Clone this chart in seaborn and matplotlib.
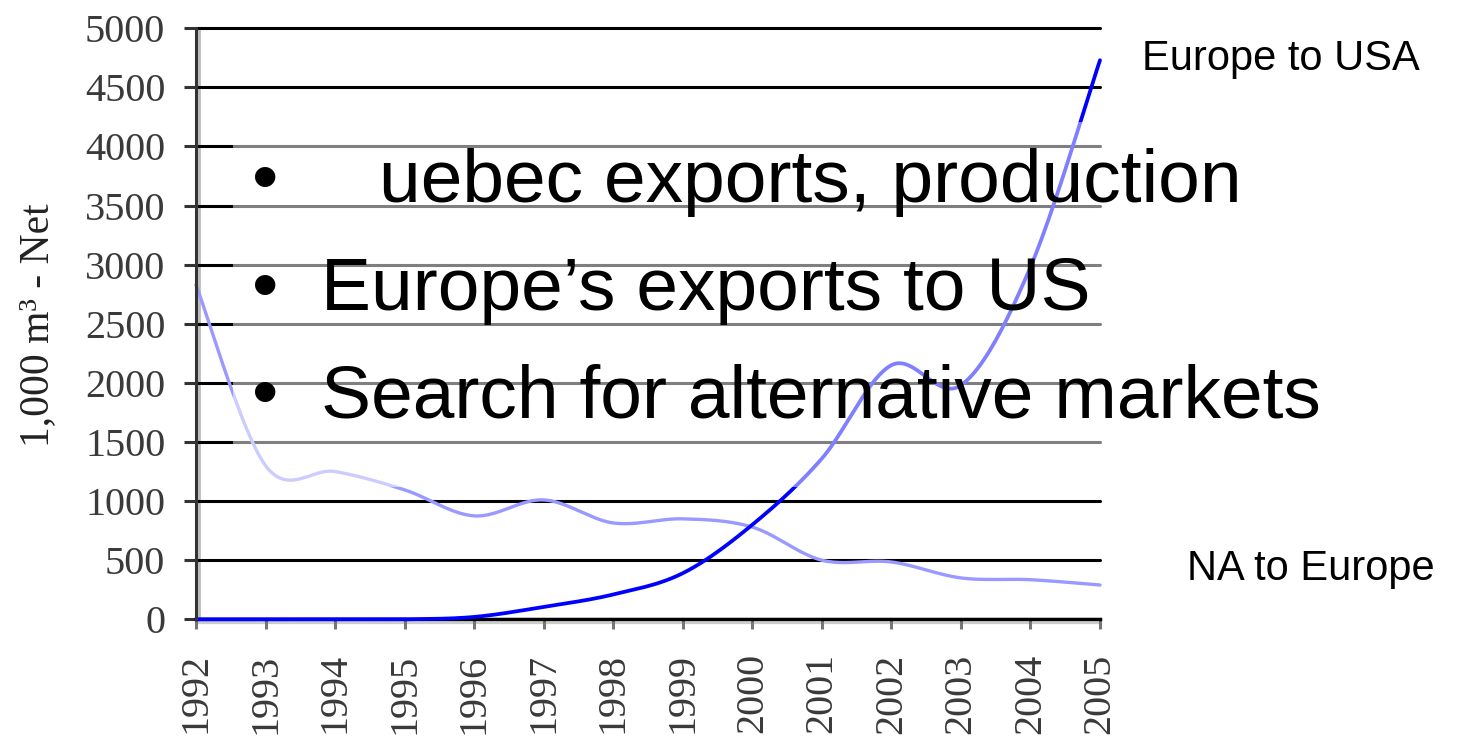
import numpy as np
import pandas as pd
import matplotlib
matplotlib.use("Agg")
import matplotlib.pyplot as plt
import matplotlib.transforms as mtransforms
from matplotlib.patches import Rectangle
import seaborn as sns

# Annual net trade volumes, 1,000 m3
years = [1992, 1993, 1994, 1995, 1996, 1997, 1998, 1999, 2000, 2001, 2002, 2003, 2004, 2005]
europe_to_usa = [0, 0, 0, 0, 20, 105, 210, 390, 800, 1360, 2150, 1980, 2980, 4730]
na_to_europe = [2830, 1300, 1250, 1095, 875, 1010, 815, 850, 780, 500, 485, 350, 335, 290]

y_ticks = [0, 500, 1000, 1500, 2000, 2500, 3000, 3500, 4000, 4500, 5000]
series_labels = ["Europe to USA", "NA to Europe"]
bullets = ["uebec exports, production", "Europe\u2019s exports to US", "Search for alternative markets"]
y_label = "1,000 m\u00b3 - Net"

W, H = 1460, 746


def smooth(xs, ys, n=24):
    """Cardinal (Catmull-Rom) Bezier smoothing through every data point."""
    xs = np.asarray(xs, float)
    ys = np.asarray(ys, float)
    px = np.concatenate([[xs[0]], xs, [xs[-1]]])
    py = np.concatenate([[ys[0]], ys, [ys[-1]]])
    out_x, out_y = [], []
    t = np.linspace(0, 1, n, endpoint=False)
    for i in range(1, len(px) - 2):
        p0 = np.array([px[i], py[i]])
        p3 = np.array([px[i + 1], py[i + 1]])
        c1 = p0 + (p3 - np.array([px[i - 1], py[i - 1]])) / 6.0
        c2 = p3 - (np.array([px[i + 2], py[i + 2]]) - p0) / 6.0
        b = ((1 - t) ** 3)[:, None] * p0 + (3 * (1 - t) ** 2 * t)[:, None] * c1 \
            + (3 * (1 - t) * t ** 2)[:, None] * c2 + (t ** 3)[:, None] * p3
        out_x.extend(b[:, 0])
        out_y.extend(b[:, 1])
    out_x.append(xs[-1])
    out_y.append(ys[-1])
    return np.array(out_x), np.array(out_y)


sns.set_style("white")
plt.rcParams["font.family"] = ["Liberation Serif", "DejaVu Serif"]

fig = plt.figure(figsize=(W / 100, H / 100), dpi=100)
ax = fig.add_axes([196 / W, (H - 619.3) / H, 904 / W, 591 / H])

# horizontal rules at every tick
for v in y_ticks:
    ax.axhline(v, color="black", lw=2.2, zorder=1, clip_on=False)

sx, sy = smooth(years, na_to_europe)
df_na = pd.DataFrame({"year": sx, "volume": sy})
sns.lineplot(data=df_na, x="year", y="volume", ax=ax, color="#9999ff", lw=2.4,
             sort=False, zorder=3, clip_on=False)

sx, sy = smooth(years, europe_to_usa)
sy = np.maximum(sy, 0)
df_eu = pd.DataFrame({"year": sx, "volume": sy})
sns.lineplot(data=df_eu, x="year", y="volume", ax=ax, color="#0000ff", lw=2.7,
             sort=False, zorder=4, clip_on=False)

ax.set_xlim(1992, 2005)
ax.set_ylim(0, 5000)
ax.set_xlabel("")
ax.set_ylabel("")
ax.set_xticks(years)
ax.set_xticklabels([str(y) for y in years], rotation=90)
ax.set_yticks(y_ticks)
ax.set_yticklabels([str(v) for v in y_ticks])
ax.tick_params(axis="x", length=7.5, width=2.2, color="#777777", pad=17,
               labelsize=29, labelcolor="#3a3a3a", bottom=True)
ax.tick_params(axis="y", length=8.6, width=2.2, color="#333333", pad=13.5,
               labelsize=29, labelcolor="#3a3a3a", left=True)

for side in ["top", "right"]:
    ax.spines[side].set_visible(False)
ax.spines["left"].set_color("#333333")
ax.spines["left"].set_linewidth(2.2)
ax.spines["bottom"].set_color("black")
ax.spines["bottom"].set_linewidth(2.5)
ax.spines["left"].set_zorder(5)

# soft grey shadow right of the value axis and under the year axis
shadow_r = mtransforms.offset_copy(ax.transData, fig=fig, x=3.0, y=0, units="dots")
ax.plot([1992, 1992], [0, 5000], color="#bbbbbb", lw=2.0, transform=shadow_r,
        clip_on=False, zorder=0.5)
shadow_b = mtransforms.offset_copy(ax.transData, fig=fig, x=0, y=-3.5, units="dots")
ax.plot([1992, 2005], [0, 0], color="#cccccc", lw=1.6, transform=shadow_b,
        clip_on=False, zorder=0.5)

# translucent text panel
panel = Rectangle((233 / W, 1 - 487 / H), (1340 - 233) / W, (487 - 122) / H,
                  transform=fig.transFigure, facecolor="white", alpha=0.5,
                  edgecolor="none", zorder=1)
fig.add_artist(panel)

# bullet list
sans = ["Liberation Sans", "DejaVu Sans"]
baselines = [202, 310, 417]
text_x = [379, 321, 321]
for txt, base, tx in zip(bullets, baselines, text_x):
    fig.text(265 / W, 1 - base / H, "\u2022", ha="center", va="baseline",
             fontsize=54, family=sans, color="black", zorder=3)
    fig.text(tx / W, 1 - base / H, txt, ha="left", va="baseline",
             fontsize=54, family=sans, color="black", zorder=3)

# series labels at the right
fig.text(1142 / W, 1 - 70 / H, series_labels[0], ha="left", va="baseline",
         fontsize=30, family=sans, color="black")
fig.text(1187 / W, 1 - 580 / H, series_labels[1], ha="left", va="baseline",
         fontsize=30, family=sans, color="black")

# value axis title
fig.text(38 / W, 1 - 325 / H, y_label, rotation=90, ha="center", va="center",
         fontsize=30, family=["Liberation Serif", "DejaVu Serif"], color="#222222")

fig.savefig("out.png", dpi=100)
